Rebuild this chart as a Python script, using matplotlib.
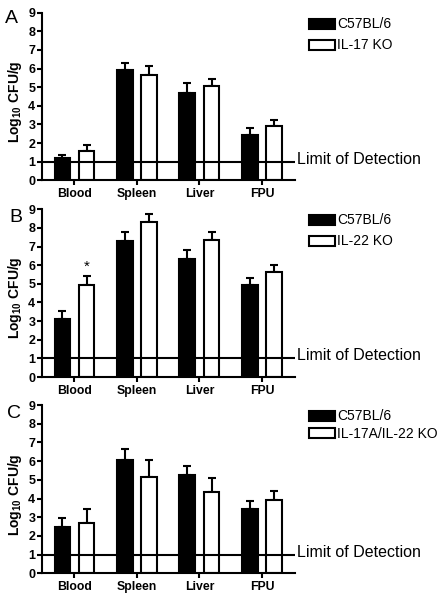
import numpy as np
import matplotlib
matplotlib.use("Agg")
import matplotlib.pyplot as plt
from matplotlib.patches import Patch
import matplotlib.transforms as mtransforms

plt.rcParams['font.family'] = ['Liberation Sans', 'DejaVu Sans']
plt.rcParams['mathtext.fontset'] = 'custom'
plt.rcParams['mathtext.rm'] = 'Liberation Sans'
plt.rcParams['mathtext.bf'] = 'Liberation Sans:bold'

categories = ['Blood', 'Spleen', 'Liver', 'FPU']
limit_of_detection = 1.0

panel_letters = ['A', 'B', 'C']
wt_label = 'C57BL/6'
ko_labels = ['IL-17 KO', 'IL-22 KO', 'IL-17A/IL-22 KO']

A_wt = [1.22, 5.93, 4.68, 2.41]
A_wt_err = [0.12, 0.38, 0.54, 0.41]
A_ko = [1.60, 5.65, 5.06, 2.89]
A_ko_err = [0.28, 0.50, 0.37, 0.33]

B_wt = [3.12, 7.30, 6.34, 4.94]
B_wt_err = [0.44, 0.48, 0.48, 0.35]
B_ko = [4.94, 8.31, 7.36, 5.66]
B_ko_err = [0.46, 0.42, 0.42, 0.37]

C_wt = [2.48, 6.08, 5.23, 3.45]
C_wt_err = [0.49, 0.58, 0.49, 0.42]
C_ko = [2.70, 5.17, 4.36, 3.93]
C_ko_err = [0.76, 0.87, 0.72, 0.47]

star_panel = 1
star_group = 0
star_text = '*'

fig = plt.figure(figsize=(4.43, 6.0), dpi=100)
W, H = 443.0, 600.0

def px_rect(x0, x1, ytop, ybot):
    return [x0 / W, 1 - ybot / H, (x1 - x0) / W, (ybot - ytop) / H]

axes_px = [(42, 295, 12.7, 180.3), (42, 295, 209.3, 377.0), (42, 295, 405.0, 573.3)]
letter_px = [(5, 23.3), (9, 221.7), (7, 418.3)]
legend_top_px = [17.5, 213.5, 409.5]
legend_spacing = [0.5, 0.5, 0.25]

data = [(A_wt, A_wt_err, A_ko, A_ko_err),
        (B_wt, B_wt_err, B_ko, B_ko_err),
        (C_wt, C_wt_err, C_ko, C_ko_err)]

x = np.arange(len(categories))
bw = 0.25
off = 0.194
lw = 1.5

for i, (wt, wte, ko, koe) in enumerate(data):
    ax = fig.add_axes(px_rect(*axes_px[i]))
    ax.bar(x - off, wt, bw, color='black', edgecolor='black', linewidth=lw, zorder=2)
    ax.bar(x + off, ko, bw, color='white', edgecolor='black', linewidth=lw, zorder=2)
    ax.errorbar(x - off, wt, yerr=[np.zeros(len(wt)), wte], fmt='none', ecolor='black',
                elinewidth=lw, capsize=2.6, capthick=lw, zorder=1)
    ax.errorbar(x + off, ko, yerr=[np.zeros(len(ko)), koe], fmt='none', ecolor='black',
                elinewidth=lw, capsize=2.6, capthick=lw, zorder=1)
    ax.axhline(limit_of_detection, color='black', linewidth=lw, zorder=3)
    trans = mtransforms.blended_transform_factory(ax.transAxes, ax.transData)
    ax.text(1.008, limit_of_detection - 0.11, 'Limit of Detection', transform=trans,
            fontsize=11.5, va='baseline', ha='left')
    ax.set_xlim(-0.52, 3.53)
    ax.set_ylim(0, 9)
    ax.set_yticks(range(0, 10))
    ax.set_xticks(x)
    ax.set_xticklabels(categories, fontweight='bold', fontsize=8.8)
    for t in ax.get_yticklabels():
        t.set_fontweight('bold')
        t.set_fontsize(9)
    ax.tick_params(axis='both', width=lw, length=3.6, pad=1.2, color='black')
    ax.tick_params(axis='x', pad=2.0)
    for s in ['top', 'right']:
        ax.spines[s].set_visible(False)
    for s in ['left', 'bottom']:
        ax.spines[s].set_linewidth(lw)
    ax.set_ylabel(r'Log$_{\mathbf{10}}$ CFU/g', fontweight='bold', fontsize=10)
    ax.yaxis.set_label_coords(-0.07, 0.47)
    lx, ly = letter_px[i]
    fig.text(lx / W, 1 - ly / H, panel_letters[i], fontsize=14, ha='left', va='baseline')
    if i == star_panel:
        ax.text(x[star_group] + off, ko[star_group] + koe[star_group] + 0.15, star_text,
                ha='center', va='bottom', fontsize=11)
    handles = [Patch(facecolor='black', edgecolor='black', linewidth=lw),
               Patch(facecolor='white', edgecolor='black', linewidth=lw)]
    ax.legend(handles, [wt_label, ko_labels[i]], loc='upper left',
              bbox_to_anchor=(309 / W, 1 - legend_top_px[i] / H),
              bbox_transform=fig.transFigure, frameon=False, borderpad=0,
              borderaxespad=0, handlelength=1.9, handleheight=0.75,
              handletextpad=0.12, labelspacing=legend_spacing[i], fontsize=10)

fig.savefig('out.png', dpi=100)
